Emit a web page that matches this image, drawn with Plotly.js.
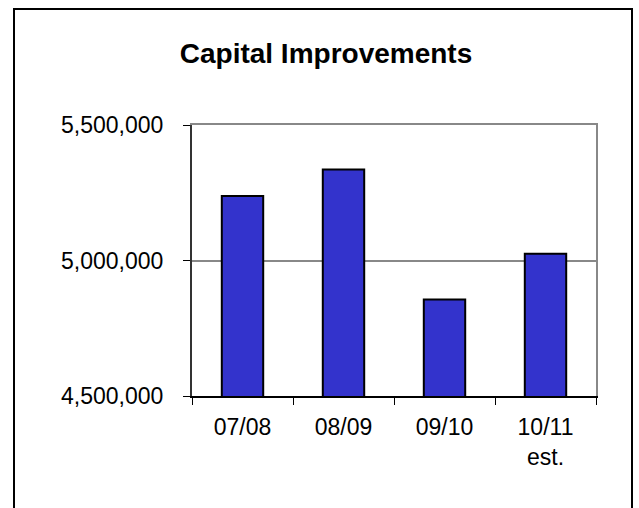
<!DOCTYPE html>
<html>
<head>
<meta charset="utf-8">
<script src="https://cdn.plot.ly/plotly-3.0.1.min.js"></script>
<style>
  html, body { margin: 0; padding: 0; background: #ffffff; }
  #wrap { position: relative; width: 639px; height: 508px; overflow: hidden; }
  #chart { width: 639px; height: 508px; }
  #frame { position: absolute; left: 13px; top: 8px; width: 616px; height: 520px;
           border: 2px solid #000; pointer-events: none; }
</style>
</head>
<body>
<div id="wrap">
  <div id="chart"></div>
  <div id="frame"></div>
</div>
<script>
const categories = ["07/08", "08/09", "09/10", "10/11<br>est."];
const values = [5238000, 5336000, 4856000, 5025000];
const yTicks = [4500000, 5000000, 5500000];
const yRange = [4500000, 5500000];
const titleText = "Capital Improvements";

const FONT = "Liberation Sans, Arial, sans-serif";

const trace = {
  type: "bar",
  x: categories,
  y: values,
  marker: { color: "#3333CC", line: { color: "#000000", width: 2 } },
  hoverinfo: "skip"
};

// invisible copy so the frame axes (top/right border) are drawn
const frameTrace = {
  type: "bar",
  x: categories,
  y: values,
  xaxis: "x2",
  yaxis: "y2",
  marker: { color: "rgba(0,0,0,0)", line: { width: 0 } },
  hoverinfo: "skip"
};

const layout = {
  width: 639,
  height: 508,
  paper_bgcolor: "rgba(0,0,0,0)",
  plot_bgcolor: "#ffffff",
  margin: { l: 192, r: 43, t: 125, b: 112, pad: 0 },
  showlegend: false,
  bargap: 0.59,
  title: {
    text: "<b>" + titleText + "</b>",
    font: { family: FONT, size: 28, color: "#000000" },
    x: 326 / 639, xanchor: "center",
    y: 1 - 53 / 508, yanchor: "middle",
    xref: "container", yref: "container"
  },
  xaxis: {
    type: "category",
    showgrid: false,
    showline: true, linecolor: "#000000", linewidth: 2,
    ticks: "outside", ticklen: 7, tickwidth: 1, tickcolor: "#000000",
    tickson: "boundaries",
    ticklabelstandoff: 9,
    tickfont: { family: FONT, size: 23, color: "#000000" },
    zeroline: false, fixedrange: true
  },
  yaxis: {
    range: yRange,
    tickvals: yTicks,
    tickformat: ",d",
    showgrid: true, gridcolor: "#888888", gridwidth: 2,
    showline: true, linecolor: "#333333", linewidth: 2,
    ticks: "outside", ticklen: 7, tickwidth: 1, tickcolor: "#000000",
    ticklabelstandoff: 15,
    tickfont: { family: FONT, size: 23, color: "#000000" },
    zeroline: false, fixedrange: true
  },
  xaxis2: {
    type: "category",
    overlaying: "x", side: "top", anchor: "y2",
    showline: true, linecolor: "#888888", linewidth: 2,
    showticklabels: false, ticks: "", showgrid: false, zeroline: false
  },
  yaxis2: {
    overlaying: "y", side: "right", anchor: "x2",
    range: yRange,
    showline: true, linecolor: "#888888", linewidth: 2,
    showticklabels: false, ticks: "", showgrid: false, zeroline: false
  }
};

Plotly.newPlot("chart", [frameTrace, trace], layout, { staticPlot: true, displayModeBar: false });
</script>
</body>
</html>
